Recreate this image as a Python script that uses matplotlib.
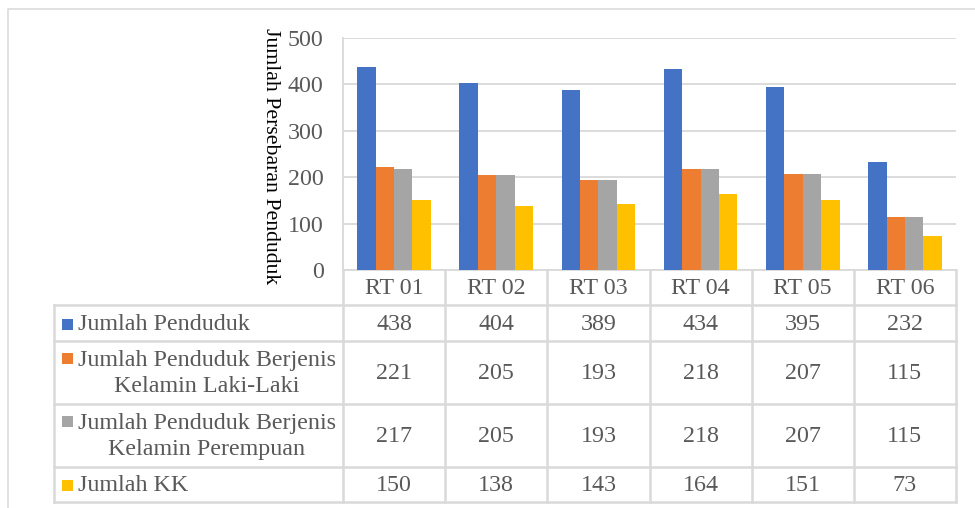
import numpy as np
import matplotlib.pyplot as plt
import matplotlib.transforms as mtransforms

plt.rcParams['font.family'] = ['Liberation Serif', 'DejaVu Serif']

categories = ["RT 01", "RT 02", "RT 03", "RT 04", "RT 05", "RT 06"]
series_names = ["Jumlah Penduduk",
                "Jumlah Penduduk Berjenis\nKelamin Laki-Laki",
                "Jumlah Penduduk Berjenis\nKelamin Perempuan",
                "Jumlah KK"]
jumlah_penduduk = [438, 404, 389, 434, 395, 232]
laki_laki = [221, 205, 193, 218, 207, 115]
perempuan = [217, 205, 193, 218, 207, 115]
jumlah_kk = [150, 138, 143, 164, 151, 73]
colors = ["#4472C4", "#ED7D31", "#A5A5A5", "#FFC000"]

W, H = 975, 508
GRID = "#d9d9d9"
TXT = "#595959"

fig = plt.figure(figsize=(W / 100, H / 100), dpi=100)

# background overlay in pixel coords (for frame and table)
bg = fig.add_axes([0, 0, 1, 1], zorder=0)
bg.set_xlim(0, W)
bg.set_ylim(H, 0)
bg.axis('off')

# outer chart frame (cut off at right and bottom)
bg.plot([8, 8, W + 5], [H + 5, 9, 9], color=GRID, lw=1.1)

x0, x1, ytop, ybot = 343, 956, 38, 270
ax = fig.add_axes([x0 / W, (H - ybot) / H, (x1 - x0) / W, (ybot - ytop) / H], zorder=1)
ax.patch.set_alpha(0)

data = [jumlah_penduduk, laki_laki, perempuan, jumlah_kk]
x = np.arange(len(categories))
bw = 0.18
for i, vals in enumerate(data):
    ax.bar(x + (i - 1.5) * bw, vals, bw, color=colors[i], zorder=3)

ax.set_xlim(-0.5, len(categories) - 0.5)
ax.set_ylim(0, 500)
ax.set_yticks(range(0, 501, 100))
ax.set_xticks([])
ax.tick_params(axis='y', length=0, pad=14, labelsize=17.3, labelcolor=TXT)
ax.yaxis.grid(True, color=GRID, lw=1.3, zorder=0)
for s in ['top', 'right']:
    ax.spines[s].set_visible(False)
for s in ['left', 'bottom']:
    ax.spines[s].set_color(GRID)
    ax.spines[s].set_linewidth(1.3)

fig.text(271 / W, 1 - 156 / H, "Jumlah Persebaran Penduduk", rotation=270,
         ha='center', va='center', fontsize=15.7, color='black')

# data table below the plot
trans = mtransforms.blended_transform_factory(ax.transData, bg.transData)
row_edges = [270, 305, 341, 404, 467, 502]
tleft = 54
for xe in np.arange(len(categories) + 1) - 0.5:
    bg.plot([xe, xe], [row_edges[0], row_edges[-1]], color=GRID, lw=1.8, transform=trans,
            clip_on=False)
for ye in row_edges[1:]:
    bg.plot([tleft, x1], [ye, ye], color=GRID, lw=1.8)
bg.plot([tleft, tleft], [row_edges[1], row_edges[-1]], color=GRID, lw=1.8)

# header row
yh = (row_edges[0] + row_edges[1]) / 2 + 1
for j, cat in enumerate(categories):
    bg.text(j, yh, cat, transform=trans, ha='center', va='center', fontsize=17.3, color=TXT)

# series rows
for i, vals in enumerate(data):
    yc = (row_edges[i + 1] + row_edges[i + 2]) / 2 + 1
    nlines = series_names[i].count("\n") + 1
    yfirst = yc - (nlines - 1) * 15
    bg.add_patch(plt.Rectangle((62, yfirst - 5.5), 11, 11, color=colors[i], lw=0))
    bg.text(78, yc, series_names[i], ha='left', va='center', multialignment='center',
            fontsize=17.3, color=TXT, linespacing=1.35)
    for j, v in enumerate(vals):
        bg.text(j, yc, str(v), transform=trans, ha='center', va='center', fontsize=17.3, color=TXT)

fig.savefig("out.png", dpi=100)
